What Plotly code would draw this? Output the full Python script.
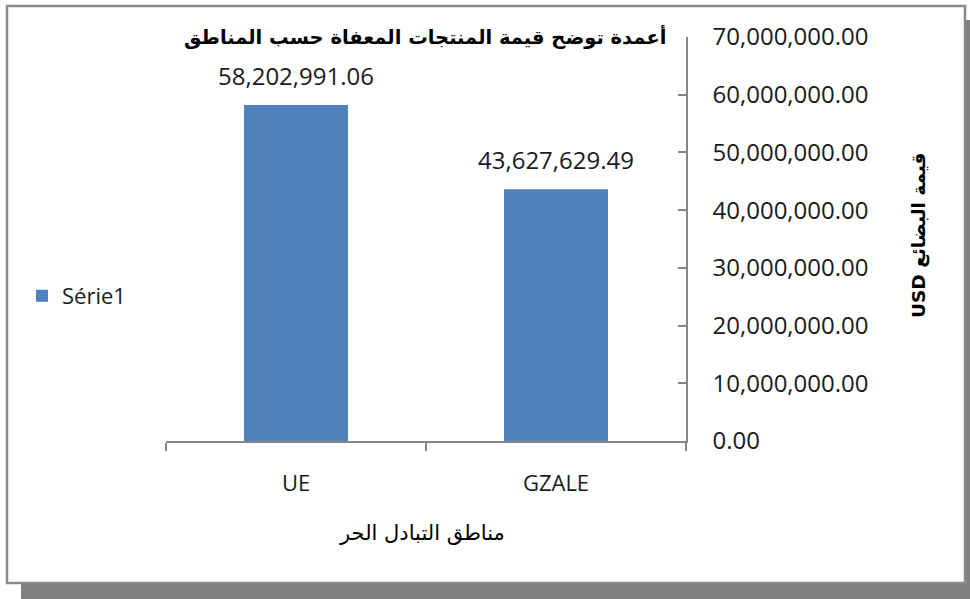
import plotly.graph_objects as go

categories = ["UE", "GZALE"]
values = [58202991.06, 43627629.49]
series_name = "Série1"
tick_values = [0, 10e6, 20e6, 30e6, 40e6, 50e6, 60e6, 70e6]
tick_labels = ["0.00", "10,000,000.00", "20,000,000.00", "30,000,000.00",
               "40,000,000.00", "50,000,000.00", "60,000,000.00", "70,000,000.00"]
title_text = "أعمدة توضح قيمة المنتجات المعفاة حسب المناطق"
x_title = "مناطق التبادل الحر"
y_title = "USD قيمة البضائع"

W, H = 970, 599
L, R, T, B = 166, 686, 37, 441  # plot area in pixels


def px(x):
    return (x - L) / (R - L)


def py(y):
    return (B - y) / (B - T)


LAT = "Open Sans, Liberation Sans, sans-serif"
AR = "DejaVu Sans, sans-serif"
AXC = "#868686"

fig = go.Figure()
fig.add_trace(go.Bar(
    x=categories, y=values, name=series_name,
    marker=dict(color="#4F81BD", line=dict(width=0)),
    showlegend=True,
))

for c, v in zip(categories, values):
    fig.add_annotation(x=c, y=v, xref="x", yref="y", text=f"{v:,.2f}",
                       showarrow=False, yanchor="bottom", yshift=11,
                       font=dict(family=LAT, size=24, color="#1a1a1a"))

# frame and shadow
fig.add_shape(type="rect", xref="paper", yref="paper", layer="below",
              x0=px(21), x1=px(990), y0=py(20), y1=py(620),
              fillcolor="#808080", line=dict(width=0))
fig.add_shape(type="rect", xref="paper", yref="paper", layer="below",
              x0=px(7), x1=px(965), y0=py(6), y1=py(583),
              fillcolor="white", line=dict(color="#8a8a8a", width=2.5))

fig.add_annotation(text=f"<b>{title_text}</b>", xref="paper", yref="paper",
                   x=px(668), y=py(37), xanchor="right", yanchor="middle",
                   showarrow=False, font=dict(family=AR, size=19.5, color="black"))
fig.add_annotation(text=x_title, xref="paper", yref="paper",
                   x=px(422), y=py(533), xanchor="center", yanchor="middle",
                   showarrow=False, font=dict(family=AR, size=21, color="black"))
fig.add_annotation(text=f"<b>{y_title}</b>", xref="paper", yref="paper",
                   x=px(919), y=py(236), xanchor="center", yanchor="middle",
                   textangle=-90, showarrow=False,
                   font=dict(family=AR, size=18.5, color="black"))

fig.update_layout(
    width=W, height=H,
    margin=dict(l=L, r=W - R, t=T, b=H - B, pad=0),
    paper_bgcolor="white", plot_bgcolor="rgba(0,0,0,0)",
    bargap=0.6,
    showlegend=True,
    legend=dict(x=px(22), y=py(296), xanchor="left", yanchor="middle",
                font=dict(family=LAT, size=22, color="#1a1a1a"),
                bgcolor="rgba(0,0,0,0)"),
    xaxis=dict(showline=True, linecolor=AXC, linewidth=1.5,
               ticks="outside", tickson="boundaries", ticklen=8,
               tickcolor=AXC, tickwidth=1.5,
               tickfont=dict(family=LAT, size=22, color="#1a1a1a"),
               ticklabelstandoff=22, showgrid=False, zeroline=False),
    yaxis=dict(side="right", range=[0, 70e6], tickvals=tick_values,
               ticktext=tick_labels, showline=True, linecolor=AXC,
               linewidth=1.5, ticks="inside", ticklen=8, tickcolor=AXC,
               tickwidth=1.5, showgrid=False, zeroline=False,
               ticklabelstandoff=20,
               tickfont=dict(family=LAT, size=24, color="#1a1a1a")),
)

fig.write_html("out.html", config={"displayModeBar": False},
               post_script="document.body.style.margin='0';document.body.style.padding='0';")
